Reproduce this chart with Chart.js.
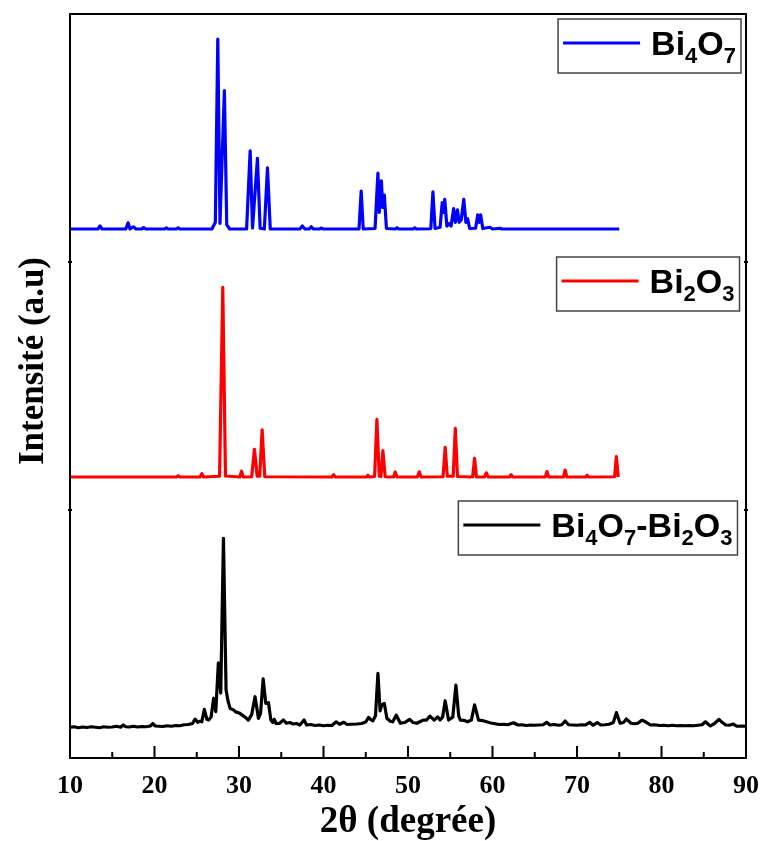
<!DOCTYPE html>
<html>
<head>
<meta charset="utf-8">
<script src="https://cdn.jsdelivr.net/npm/chart.js@4.4.1/dist/chart.umd.min.js"></script>
<style>
  body { margin: 0; background: #fff; }
</style>
</head>
<body>
<canvas id="xrd" width="761" height="841"></canvas>
<script>
// 2θ (°) and intensity (a.u., each panel 0..100)
const bi4o7Angle = [10, 13.3, 13.55, 13.8, 16.6, 16.87, 17.1, 17.5, 17.8, 18.5, 18.7, 19.0, 21.2, 21.4, 21.6, 22.6, 22.8, 23.0,
  26.8, 27.2, 27.49, 27.75, 28.27, 28.55, 28.9, 30.9, 31.32, 31.6, 32.18, 32.5, 33.0, 33.37, 33.7,
  37.2, 37.5, 37.8, 38.3, 38.55, 38.8, 39.5, 39.7, 40.0, 44.2, 44.46, 44.7, 46.1, 46.44, 46.6, 46.85, 47.0, 47.2, 47.45,
  48.5, 48.7, 48.9, 50.6, 50.8, 51.0, 52.7, 52.95, 53.2, 53.8, 54.05, 54.2, 54.35, 54.6, 54.9, 55.1, 55.4, 55.6,
  55.85, 56.05, 56.3, 56.6, 56.85, 57.05, 57.3, 58.0, 58.25, 58.45, 58.6, 58.85, 59.7, 60.0, 60.9, 61.1, 75];
const bi4o7Int = [13.3, 13.3, 14.5, 13.3, 13.3, 15.8, 13.3, 14.2, 13.3, 13.3, 13.9, 13.3, 13.3, 13.8, 13.3, 13.3, 13.8, 13.3,
  13.3, 16, 89.9, 15.6, 69.1, 15, 13.3, 13.3, 44.8, 13.7, 41.8, 13.6, 13.3, 38.0, 13.3,
  13.3, 14.5, 13.3, 13.3, 14.2, 13.3, 13.3, 13.7, 13.3, 13.3, 28.6, 13.3, 13.5, 35.8, 20, 32.7, 22, 27.0, 13.5,
  13.3, 13.8, 13.3, 13.3, 13.8, 13.3, 13.4, 28.3, 13.5, 14, 23.9, 20, 25.3, 14.5, 15.5, 14.5, 21.5, 16,
  21, 16, 17, 25.3, 16, 17.5, 13.5, 13.6, 19, 16, 19, 13.5, 14, 13.3, 13.6, 13.3, 13.3];

const bi2o3Angle = [10, 22.6, 22.8, 23.0, 25.4, 25.6, 25.8, 27.7, 28.08, 28.4, 30.1, 30.3, 30.5, 31.5, 31.83, 32.15, 32.45,
  32.74, 33.05, 41.0, 41.2, 41.4, 45.1, 45.25, 45.45, 46.05, 46.32, 46.6, 46.8, 47.03, 47.3, 48.3, 48.49, 48.7,
  51.1, 51.33, 51.55, 54.15, 54.4, 54.65, 55.35, 55.6, 55.85, 57.65, 57.88, 58.1, 59.05, 59.27, 59.5, 62.0, 62.2, 62.4,
  66.25, 66.45, 66.65, 68.4, 68.6, 68.8, 71.0, 71.2, 71.4, 74.45, 74.66, 74.88, 74.93];
const bi2o3Int = [13.3, 13.3, 13.8, 13.3, 13.3, 14.6, 13.3, 13.6, 89.8, 13.7, 13.3, 15.7, 13.3, 13.4, 24.5, 13.6, 13.6,
  32.3, 13.4, 13.3, 14.2, 13.3, 13.3, 14, 13.3, 13.5, 36.6, 13.6, 13.5, 23.9, 13.4, 13.3, 15.3, 13.3,
  13.3, 15.4, 13.3, 13.4, 25.3, 13.6, 13.6, 32.9, 13.5, 13.3, 20.8, 13.3, 13.3, 15, 13.3, 13.3, 14.2, 13.3,
  13.3, 15.5, 13.3, 13.3, 16.1, 13.3, 13.3, 14, 13.3, 13.4, 21.5, 13.3, 13.3];

const mixAngle = [10, 10.5, 11, 11.5, 12, 12.5, 13, 13.5, 14, 14.5, 15, 15.5, 16, 16.3, 16.6, 17, 17.5, 18, 18.5, 19, 19.5,
  19.8, 20.1, 20.5, 21, 21.5, 22, 22.5, 23, 23.5, 24, 24.5, 24.8, 25.1, 25.4, 25.6, 25.9, 26.2, 26.4, 26.7, 27.0, 27.25,
  27.56, 27.84, 28.16, 28.47, 28.7, 28.95, 29.3, 29.6, 30.1, 30.5, 30.8, 31.1, 31.5, 31.9, 32.3, 32.55, 32.86, 33.17,
  33.49, 33.77, 34.0, 34.16, 34.4, 34.8, 35.26, 35.6, 36.0, 36.4, 36.8, 37.2, 37.7, 38.0, 38.5, 39, 39.5, 40, 40.5, 41,
  41.5, 41.9, 42.4, 42.8, 43.3, 43.95, 44.5, 45.0, 45.33, 45.6, 45.85, 46.15, 46.44, 46.7, 46.9, 47.2, 47.5, 47.9, 48.2,
  48.6, 49.1, 49.6, 50.2, 50.6, 51.05, 51.4, 51.8, 52.2, 52.6, 53.1, 53.5, 53.8, 54.1, 54.4, 54.8, 55.3, 55.67, 56.0,
  56.2, 56.6, 57.05, 57.5, 57.88, 58.35, 58.8, 59.3, 59.8, 60.3, 60.8, 61.3, 61.8, 62.5, 63, 63.5, 64, 64.5, 65, 65.5,
  66, 66.4, 66.8, 67.3, 67.8, 68.2, 68.6, 69, 69.5, 70, 70.5, 71, 71.5, 71.9, 72.4, 72.8, 73.3, 73.8, 74.3, 74.66,
  75.1, 75.5, 75.85, 76.4, 76.8, 77.2, 77.7, 78.2, 78.7, 79.2, 79.8, 80.3, 80.8, 81.3, 81.8, 82.3, 82.8, 83.3, 83.8,
  84.3, 84.8, 85.2, 85.6, 85.8, 86.3, 86.8, 87.2, 87.6, 88.0, 88.5, 88.95, 89.5, 90];
const mixInt = [12.3, 12.6, 12.2, 12.5, 12.3, 12.6, 12.4, 12.2, 12.6, 12.4, 12.5, 12.8, 12.4, 13.3, 12.6, 12.5, 12.8, 12.5, 12.7, 12.6, 12.9,
  13.9, 12.9, 12.8, 12.7, 13.0, 12.8, 13.1, 13.0, 13.4, 13.5, 13.9, 15.7, 14.4, 14.8, 14.6, 19.6, 15.6, 15.3, 16.5, 24.1, 18.7,
  38.4, 26.2, 88.6, 27.4, 23, 20.0, 19.5, 18.6, 18.0, 17, 16.3, 15.3, 17.5, 24.7, 16.0, 18, 31.9, 22.0,
  22.3, 15.3, 14.3, 15.6, 13.9, 14, 15.3, 14.0, 14.3, 13.7, 13.9, 13.3, 15.3, 13.3, 13.5, 13.1, 13.3, 13.0, 13.2, 13.1,
  14.6, 13.6, 14.4, 13.5, 13.6, 13.7, 13.9, 14.5, 16.4, 15.5, 15.0, 17, 34.1, 19, 21.4, 22.0, 16.0, 14.8, 14.6,
  17.3, 14.0, 14.3, 15.6, 14.3, 14.0, 14.6, 15.3, 15.3, 16.9, 15.3, 16.6, 15.3, 16.5, 23.1, 15.3, 16.5, 29.4, 17,
  15.3, 15.2, 14.6, 15.3, 21.4, 15.3, 15.1, 14.6, 14.1, 13.8, 13.5, 13.6, 13.4, 14.2, 13.3, 13.4, 13.1, 13.3, 13.2, 13.3,
  13.4, 14.4, 13.3, 13.5, 13.2, 13.4, 14.9, 13.4, 13.3, 13.2, 13.4, 13.3, 14.4, 13.2, 14.3, 13.3, 13.4, 13.6, 14.3, 18.3,
  14.0, 14.3, 15.7, 14.0, 13.8, 14, 15.3, 14.4, 13.3, 13.4, 13.1, 13.2, 13.0, 13.2, 13.0, 13.1, 13.0, 13.1, 13.0,
  13.2, 13.4, 14.6, 13.4, 13.0, 14.0, 15.6, 14.3, 13.3, 13.2, 13.7, 12.8, 12.9, 12.8];

const seriesNames = ["Bi4O7", "Bi2O3", "Bi4O7-Bi2O3"];
const seriesColors = ["#0000ff", "#ff0000", "#000000"];
const xTicks = [10, 20, 30, 40, 50, 60, 70, 80, 90];
const xMinorTicks = [15, 25, 35, 45, 55, 65, 75, 85];

const toPoints = (xs, ys) => xs.map((x, i) => ({ x: x, y: ys[i] }));

// formula text: digits drawn as subscripts
const drawFormula = (ctx, text, x, y, measureOnly) => {
  let cx = x;
  for (const ch of text) {
    const sub = /\d/.test(ch);
    ctx.font = sub ? 'bold 22px "Liberation Sans"' : 'bold 34px "Liberation Sans"';
    if (!measureOnly) ctx.fillText(ch, cx, sub ? y + 8 : y);
    cx += ctx.measureText(ch).width;
  }
  return cx - x;
};

const framePlugin = {
  id: "frame",
  afterDraw(chart) {
    const { ctx, chartArea: a, scales } = chart;
    ctx.save();
    ctx.strokeStyle = "#000";
    ctx.lineWidth = 2;
    ctx.strokeRect(a.left, a.top, a.right - a.left, a.bottom - a.top);

    // inward ticks on the bottom axis
    ctx.beginPath();
    xTicks.forEach((v) => {
      const px = scales.x.getPixelForValue(v);
      ctx.moveTo(px, a.bottom);
      ctx.lineTo(px, a.bottom - 12);
    });
    xMinorTicks.forEach((v) => {
      const px = scales.x.getPixelForValue(v);
      ctx.moveTo(px, a.bottom);
      ctx.lineTo(px, a.bottom - 6);
    });
    // small marks where the panels meet
    [scales.yMid.top, scales.yBot.top].forEach((py) => {
      ctx.moveTo(a.left - 2, py);
      ctx.lineTo(a.left + 2, py);
      ctx.moveTo(a.right - 2, py);
      ctx.lineTo(a.right + 2, py);
    });
    ctx.stroke();

    // y title
    ctx.fillStyle = "#000";
    ctx.font = 'bold 35px "Liberation Serif"';
    ctx.textAlign = "center";
    ctx.textBaseline = "alphabetic";
    ctx.translate(43, 361);
    ctx.rotate(-Math.PI / 2);
    ctx.fillText("Intensité (a.u)", 0, 0);
    ctx.restore();

    // one legend box per panel
    const panels = [scales.yTop, scales.yMid, scales.yBot];
    const topShift = [5, -5, -9];
    const rightShift = [5, 6.5, 8.5];
    ctx.save();
    ctx.textAlign = "left";
    ctx.textBaseline = "alphabetic";
    seriesNames.forEach((name, i) => {
      const textW = drawFormula(ctx, name, 0, 0, true);
      const w = 93 + textW + 5;
      const right = a.right - rightShift[i];
      const left = right - w;
      const top = panels[i].top + topShift[i];
      ctx.fillStyle = "#fff";
      ctx.fillRect(left, top, w, 54);
      ctx.strokeStyle = "#444";
      ctx.lineWidth = 1.5;
      ctx.strokeRect(left, top, w, 54);
      ctx.strokeStyle = seriesColors[i];
      ctx.lineWidth = 3;
      ctx.beginPath();
      ctx.moveTo(left + 5, top + 24);
      ctx.lineTo(left + 82, top + 24);
      ctx.stroke();
      ctx.fillStyle = "#000";
      drawFormula(ctx, name, left + 93, top + 35.5, false);
    });
    ctx.restore();
  },
};

const panelAxis = (weight) => ({
  type: "linear",
  position: "left",
  stack: "xrd",
  stackWeight: 1,
  weight: weight,
  min: 0,
  max: 100,
  ticks: { display: false },
  grid: { display: false, drawTicks: false },
  border: { display: false },
  afterFit: (s) => {
    s.width = 70;
  },
});

const ctx = document.getElementById("xrd");
new Chart(ctx, {
  type: "line",
  data: {
    datasets: [
      { label: seriesNames[0], data: toPoints(bi4o7Angle, bi4o7Int), borderColor: seriesColors[0], yAxisID: "yTop" },
      { label: seriesNames[1], data: toPoints(bi2o3Angle, bi2o3Int), borderColor: seriesColors[1], yAxisID: "yMid" },
      { label: seriesNames[2], data: toPoints(mixAngle, mixInt), borderColor: seriesColors[2], yAxisID: "yBot" },
    ],
  },
  options: {
    responsive: false,
    animation: false,
    layout: { padding: { top: 14, right: 15, left: 0, bottom: 0 } },
    elements: {
      point: { radius: 0 },
      line: { borderWidth: 3.2, tension: 0, borderJoinStyle: "round" },
    },
    plugins: {
      legend: { display: false },
      tooltip: { enabled: false },
    },
    scales: {
      x: {
        type: "linear",
        min: 10,
        max: 90,
        afterBuildTicks: (s) => {
          s.ticks = xTicks.map((v) => ({ value: v }));
        },
        ticks: {
          color: "#000",
          padding: 13,
          maxRotation: 0,
          font: { family: "Liberation Serif", weight: "bold", size: 26 },
        },
        grid: { display: false, drawTicks: false },
        border: { display: false },
        title: {
          display: true,
          text: "2θ (degrée)",
          color: "#000",
          padding: 0,
          font: { family: "Liberation Serif", weight: "bold", size: 37, lineHeight: 1 },
        },
        afterFit: (s) => {
          s.height = 83;
          s.paddingLeft = 0;
          s.paddingRight = 0;
        },
      },
      yTop: panelAxis(3),
      yMid: panelAxis(2),
      yBot: panelAxis(1),
    },
  },
  plugins: [framePlugin],
});
</script>
</body>
</html>
